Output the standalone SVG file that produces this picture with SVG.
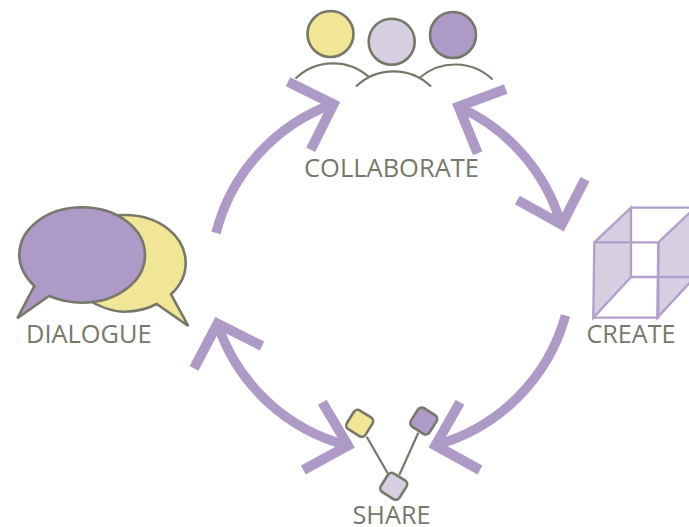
<svg xmlns="http://www.w3.org/2000/svg" width="689" height="527" viewBox="0 0 689 527">
<style>
.arc{fill:none;stroke:#ae9ac6;stroke-width:9.5}
.head{fill:none;stroke:#ae9ac6;stroke-width:10;stroke-linejoin:miter;stroke-miterlimit:10}
.o{stroke:#77776a;stroke-width:2.6}
.line{fill:none;stroke:#77776a;stroke-width:2.2}
.y{fill:#f1e695}.l{fill:#d6cfe2}.p{fill:#ae9ac6}
.cube{stroke:#b29ecb;stroke-width:2.300;stroke-linejoin:miter}
text{font-family:"Open Sans","Noto Sans",sans-serif;font-size:26px;fill:#77776a}
</style>
<rect width="689" height="527" fill="#fff"/>
<g id="connectors">
<path class="arc" d="M216 233A186 186 0 0 1 333 104"/>
<path class="head" d="M288 81.700L333.500 104.300L310.700 149.700"/>
<path class="arc" d="M459 107A186 186 0 0 1 561 224"/>
<path class="head" d="M505.700 89L458.600 106.600L477.700 153.300"/>
<path class="head" d="M517.300 200L561.700 224.700L585 179.300"/>
<path class="arc" d="M565.500 315.500A186 186 0 0 1 436 445"/>
<path class="head" d="M460 402.300L435.400 445.500L480 470"/>
<path class="arc" d="M217.500 324A186 186 0 0 0 348 445.500"/>
<path class="head" d="M322.300 402.300L348 445.600L303.300 470"/>
<path class="head" d="M194 368.300L217.500 323.600L262 346"/>
</g>
<g id="collaborate">
<circle class="y o" cx="330.500" cy="34" r="23"/>
<circle class="l o" cx="391.700" cy="41.700" r="23"/>
<circle class="p o" cx="453" cy="35" r="23"/>
<path class="line" d="M295.500 78.500A54 54 0 0 1 369 77"/>
<path class="line" d="M356 86.500A54 54 0 0 1 431 86.500"/>
<path class="line" d="M420 77.500A54 54 0 0 1 492.500 79.500"/>
<text x="304" y="177" textLength="175" lengthAdjust="spacingAndGlyphs">COLLABORATE</text>
</g>
<g id="create">
<path class="l cube" d="M594.300 242.300L631 207.700V277L593.300 317.700Z"/>
<path class="l cube" d="M658.300 242.300L695 207.700V277L657.300 317.700Z"/>
<path class="cube" fill="none" d="M631 207.700H695M594.300 242.300H658.300V317.700H593.300M631 277H695"/>
<text x="586.500" y="343" textLength="89" lengthAdjust="spacingAndGlyphs">CREATE</text>
</g>
<g id="dialogue">
<path class="y o" stroke-linejoin="miter" d="M125 215C160 215 185.700 237 185.700 263C185.700 276 180 286 171 294.300L188.300 326L156.700 304C147 309 136 311.700 125 311.700C100 311.700 64 290 64 263C64 236 90 215 125 215Z"/>
<path class="p o" stroke-linejoin="miter" d="M82 207.300C117 207.300 145 228.500 145 255C145 281.500 117 302.700 82 302.700C70 302.700 59 300 49 296L17.300 318.300L34.300 286C25 277 19.300 266 19.300 255C19.300 228.500 47 207.300 82 207.300Z"/>
<text x="26" y="343" textLength="125.500" lengthAdjust="spacingAndGlyphs">DIALOGUE</text>
</g>
<g id="share">
<path class="line" d="M366.700 436.700L387.700 473.300M418.300 432.700L399.300 475"/>
<rect class="y o" x="-11" y="-11" width="22" height="22" rx="4.500" transform="translate(359.700 423.300) rotate(32)"/>
<rect class="p o" x="-11" y="-11" width="22" height="22" rx="4.500" transform="translate(423.700 421) rotate(32)"/>
<rect class="l o" x="-11" y="-11" width="22" height="22" rx="4.500" transform="translate(393.700 486.300) rotate(32)"/>
<text x="352.500" y="524" textLength="78" lengthAdjust="spacingAndGlyphs">SHARE</text>
</g>
</svg>
